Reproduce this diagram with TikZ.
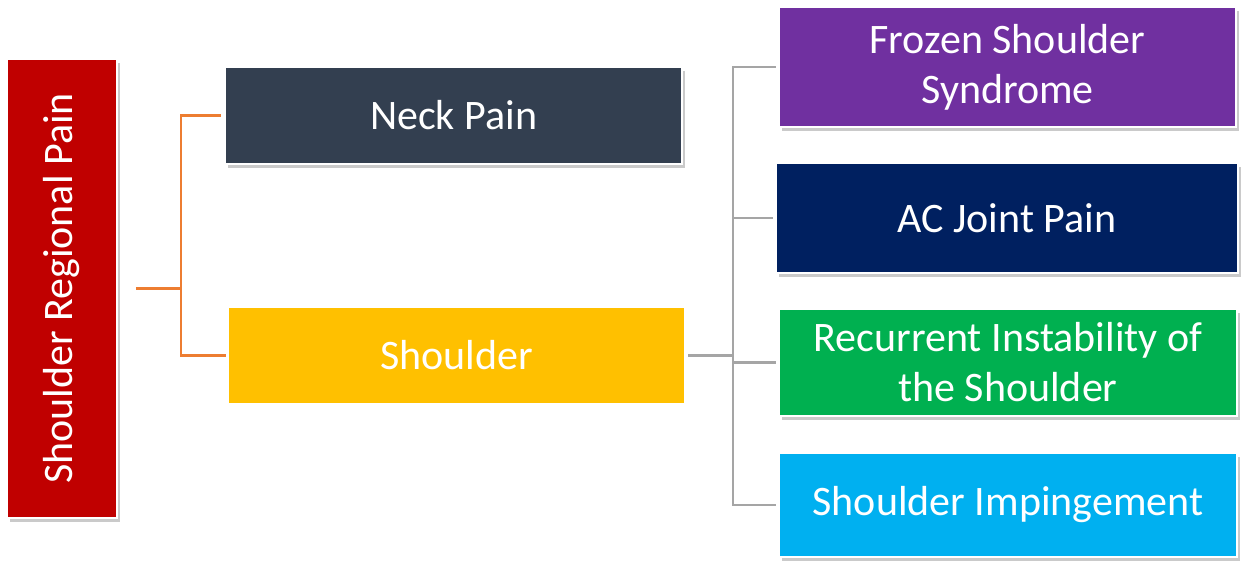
\documentclass[tikz,border=0pt]{standalone}
\usepackage{fontspec}
\setmainfont{Carlito}
\usetikzlibrary{shadows}

\definecolor{rootred}{HTML}{C00000}
\definecolor{neckgray}{HTML}{333F50}
\definecolor{shoulderyellow}{HTML}{FFC000}
\definecolor{frozenpurple}{HTML}{7030A0}
\definecolor{acnavy}{HTML}{002060}
\definecolor{instabgreen}{HTML}{00B050}
\definecolor{impingblue}{HTML}{00B0F0}
\definecolor{lineorange}{HTML}{ED7D31}
\definecolor{linegray}{HTML}{A5A5A5}

\begin{document}
\begin{tikzpicture}[x=1pt, y=-1pt,
    box/.style = {rectangle, text=white, align=center, inner sep=0pt, font=\fontsize{42}{50}\selectfont},
    shadowed/.style = {draw=white, line width=1.5pt, drop shadow={shadow xshift=3pt, shadow yshift=-4pt, opacity=0.35, fill=black!60}},
    orangeline/.style = {draw=lineorange, line width=2.5pt},
    grayline/.style = {draw=linegray, line width=2.5pt}]
                \useasboundingbox (0,0) rectangle (1246,560);

                \node[box, shadowed, fill=rootred, minimum width=459pt, minimum height=110pt, rotate=90] at (62, 288.5) (root) {Shoulder Regional Pain};
                \node[box, shadowed, fill=neckgray, minimum width=457pt, minimum height=97pt] at (453.5, 115.5) (neck) {Neck Pain};
                \node[box, fill=shoulderyellow, minimum width=455pt, minimum height=95pt] at (456.5, 355.5) (shoulder) {Shoulder};

                \node[box, shadowed, fill=frozenpurple, minimum width=457pt, minimum height=120pt] at (1007.5, 67) (frozen) {Frozen Shoulder\\Syndrome};
                \node[box, shadowed, fill=acnavy, minimum width=462pt, minimum height=110pt] at (1007, 218) (acjoint) {AC Joint Pain};
                \node[box, shadowed, fill=instabgreen, minimum width=458pt, minimum height=107pt] at (1008, 362.5) (instab) {Recurrent Instability of\\the Shoulder};
                \node[box, shadowed, fill=impingblue, minimum width=458pt, minimum height=104pt] at (1008, 505) (imping) {Shoulder Impingement};

                \coordinate (rootout) at ([xshift=18pt]root.south);
                \coordinate (shoulderout) at ([xshift=4pt]shoulder.east);

                \draw[orangeline] (rootout) -- ++(45,0) coordinate (orangefork);
                \draw[orangeline] (orangefork) |- ([xshift=-3pt]neck.west);
                \draw[orangeline] (orangefork) |- ([xshift=-3pt]shoulder.west);

                \draw[grayline] (shoulderout) -- ++(45,0) coordinate (grayfork);
                \draw[grayline] (grayfork) |- ([xshift=-2pt]frozen.west);
                \draw[grayline] (grayfork) |- ([xshift=-2pt]acjoint.west);
                \draw[grayline] (grayfork) |- ([xshift=-2pt]instab.west);
                \draw[grayline] (grayfork) |- ([xshift=-2pt]imping.west);
            \end{tikzpicture}
\end{document}
